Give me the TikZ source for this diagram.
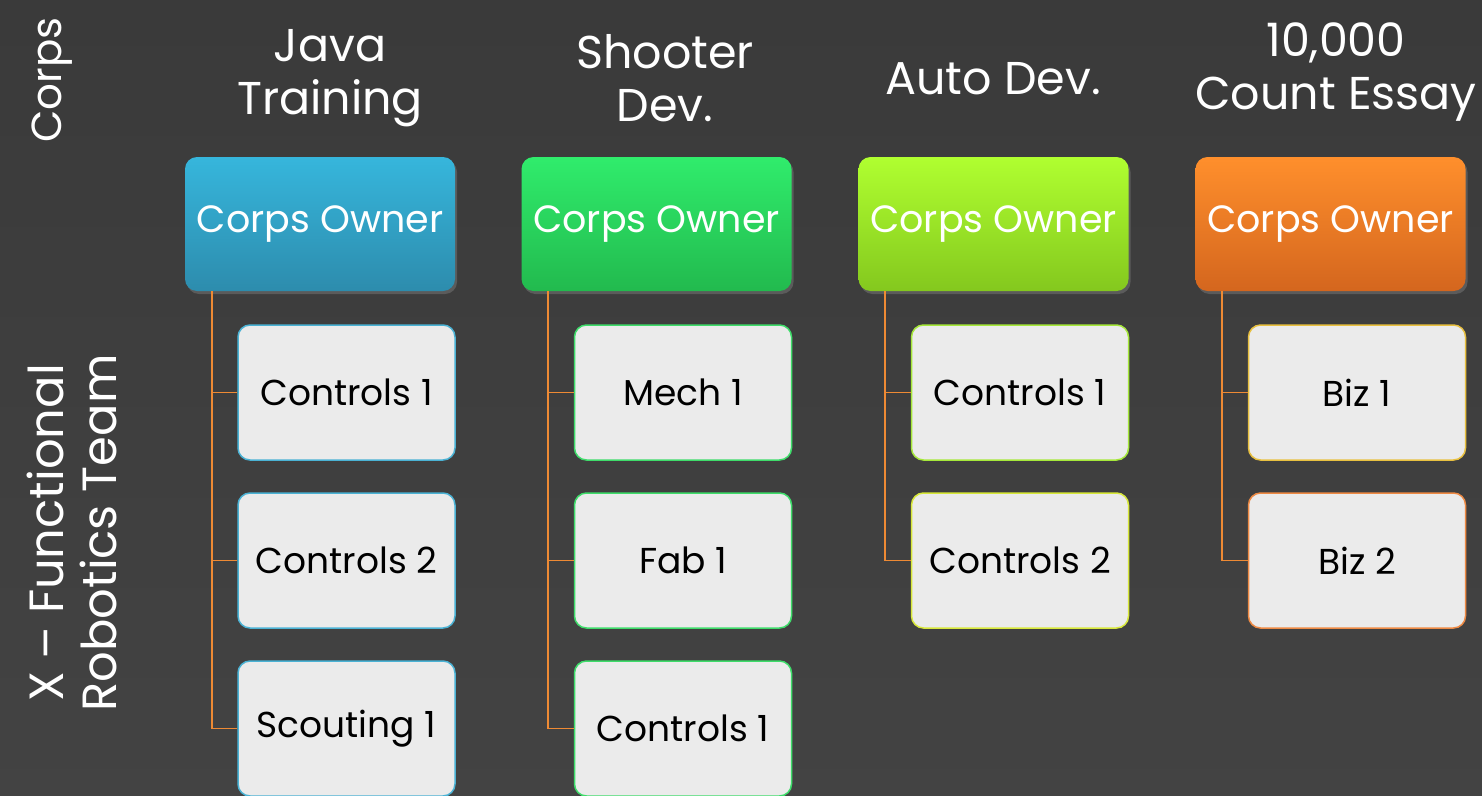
\documentclass[tikz,border=0pt]{standalone}
\usepackage{fontspec}
\setmainfont{Poppins}
\usetikzlibrary{shadows}
\definecolor{board}{HTML}{3A3A3A}
\definecolor{boardlt}{HTML}{454545}
\definecolor{blueT}{HTML}{36B6DC}
\definecolor{blueB}{HTML}{2D8CAD}
\definecolor{greenT}{HTML}{30EC6C}
\definecolor{greenB}{HTML}{22BA4E}
\definecolor{limeT}{HTML}{B0FF30}
\definecolor{limeB}{HTML}{84C81E}
\definecolor{orangeT}{HTML}{FF8F2C}
\definecolor{orangeB}{HTML}{D4661E}
\definecolor{childfill}{HTML}{EBEBEB}
\definecolor{conncol}{HTML}{EE8A34}
\definecolor{bdBlue}{HTML}{4AB2D4}
\definecolor{bdGreen}{HTML}{3EDC6A}
\definecolor{bdLime}{HTML}{A6E83A}
\definecolor{bdYellow}{HTML}{D8E83A}
\definecolor{bdGold}{HTML}{E8C040}
\definecolor{bdOrange}{HTML}{EE8A44}
\begin{document}
\begin{tikzpicture}[x=1pt,y=-1pt,
  head/.style={rounded corners=12pt, minimum width=270pt, minimum height=134pt,
    inner sep=0pt, text=white, font=\fontsize{38}{42}\selectfont,
    drop shadow={opacity=0.45, shadow xshift=2pt, shadow yshift=-3pt}},
  child/.style={rounded corners=12pt, minimum width=217pt, minimum height=135pt,
    inner sep=0pt, fill=childfill, line width=1.5pt, text=black,
    font=\fontsize{36}{40}\selectfont},
  conn/.style={draw=conncol, line width=1.8pt},
  title/.style={text=white, align=center, font=\fontsize{46}{53}\selectfont},
  side/.style={text=white, align=center, rotate=90, font=\fontsize{48}{53}\selectfont}]
\shade[top color=board, bottom color=boardlt!80!board] (0,0) rectangle (1482,795);
\useasboundingbox (0,0) rectangle (1482,795);

% side labels
\node[side, font=\fontsize{42}{48}\selectfont] (corps) at (52,80) {Corps};
\node[side] (xf) at (72,533) {X – Functional\\Robotics Team};

% titles
\node[title] (t1) at (330,78) {Java\\Training};
\node[title] (t2) at (665,78) {Shooter\\Dev.};
\node[title] (t3) at (993,79) {Auto Dev.};
\node[title] (t4) at (1336,72) {10,000\\Count Essay};

% headers
\node[head, top color=blueT, bottom color=blueB] (j0) at (320,224) {Corps Owner};
\node[head, top color=greenT, bottom color=greenB] (s0) at (656.5,224) {Corps Owner};
\node[head, top color=limeT, bottom color=limeB] (a0) at (993.5,224) {Corps Owner};
\node[head, top color=orangeT, bottom color=orangeB] (c0) at (1330.5,224) {Corps Owner};

% children
\node[child, draw=bdBlue] (j1) at (346.5,392.5) {Controls 1};
\node[child, draw=bdBlue] (j2) at (346.5,560.5) {Controls 2};
\node[child, draw=bdBlue] (j3) at (346.5,728.5) {Scouting 1};
\node[child, draw=bdGreen] (s1) at (683,392.5) {Mech 1};
\node[child, draw=bdGreen] (s2) at (683,560.5) {Fab 1};
\node[child, draw=bdGreen] (s3) at (683,728.5) {Controls 1};
\node[child, draw=bdLime] (a1) at (1020,392.5) {Controls 1};
\node[child, draw=bdYellow] (a2) at (1020,560.5) {Controls 2};
\node[child, draw=bdGold] (c1) at (1357,392.5) {Biz 1};
\node[child, draw=bdOrange] (c2) at (1357,560.5) {Biz 2};

% connectors
\draw[conn] (j0.south west) ++(27,0) |- (j1.west);
\draw[conn] (j0.south west) ++(27,0) |- (j2.west);
\draw[conn] (j0.south west) ++(27,0) |- (j3.west);
\draw[conn] (s0.south west) ++(27,0) |- (s1.west);
\draw[conn] (s0.south west) ++(27,0) |- (s2.west);
\draw[conn] (s0.south west) ++(27,0) |- (s3.west);
\draw[conn] (a0.south west) ++(27,0) |- (a1.west);
\draw[conn] (a0.south west) ++(27,0) |- (a2.west);
\draw[conn] (c0.south west) ++(27,0) |- (c1.west);
\draw[conn] (c0.south west) ++(27,0) |- (c2.west);
\end{tikzpicture}
\end{document}
